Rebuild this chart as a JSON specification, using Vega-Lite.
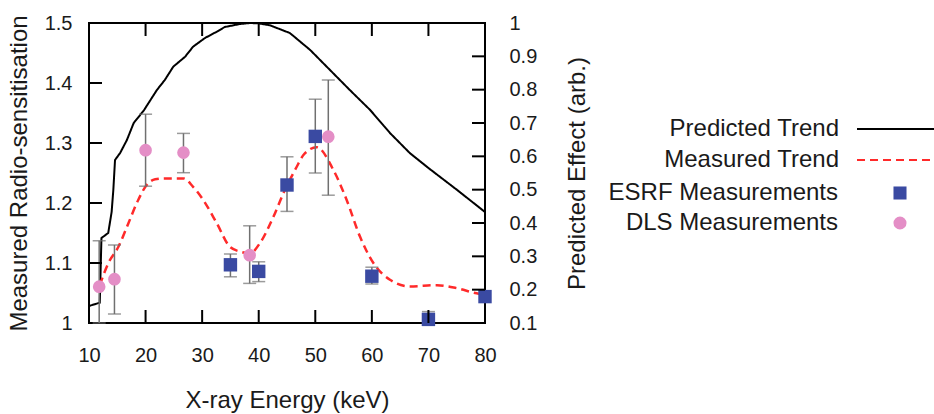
{
  "$schema": "https://vega.github.io/schema/vega-lite/v6.json",
  "width": 396,
  "height": 300,
  "autosize": {"type": "none"},
  "padding": {"left": 89, "top": 23, "right": 449, "bottom": 91},
  "config": {
    "font": "Liberation Sans",
    "view": {"stroke": "#000000", "strokeWidth": 2},
    "axis": {
      "grid": false,
      "domain": false,
      "ticks": false,
      "tickSize": 0,
      "labelFlush": false,
      "labelColor": "#1a1a1a",
      "titleColor": "#1a1a1a",
      "labelFontSize": 20,
      "titleFontSize": 24,
      "titleFontWeight": "normal",
      "labelFont": "Liberation Sans",
      "titleFont": "Liberation Sans"
    },
    "legend": {
      "labelFontSize": 24,
      "labelColor": "#1a1a1a",
      "labelFont": "Liberation Sans",
      "labelLimit": 0
    }
  },
  "datasets": {
    "predicted": [
      {"E": 10.0, "R": 0.151}, {"E": 11.9, "R": 0.161}, {"E": 12.2, "R": 0.355}, {"E": 13.4, "R": 0.37},
      {"E": 14.0, "R": 0.433}, {"E": 14.3, "R": 0.499}, {"E": 14.6, "R": 0.589}, {"E": 15.5, "R": 0.61},
      {"E": 16.7, "R": 0.649}, {"E": 17.9, "R": 0.70}, {"E": 19.7, "R": 0.738}, {"E": 22.0, "R": 0.799},
      {"E": 23.4, "R": 0.829}, {"E": 24.9, "R": 0.869}, {"E": 27.0, "R": 0.899}, {"E": 28.4, "R": 0.929},
      {"E": 30.5, "R": 0.955}, {"E": 32.6, "R": 0.974}, {"E": 34.0, "R": 0.988}, {"E": 36.7, "R": 0.997},
      {"E": 38.5, "R": 1.0}, {"E": 39.9, "R": 0.999}, {"E": 42.0, "R": 0.993}, {"E": 45.5, "R": 0.97},
      {"E": 49.1, "R": 0.919}, {"E": 52.6, "R": 0.859}, {"E": 56.1, "R": 0.799}, {"E": 59.7, "R": 0.739},
      {"E": 63.2, "R": 0.67}, {"E": 66.7, "R": 0.61}, {"E": 70.0, "R": 0.565}, {"E": 75.0, "R": 0.50},
      {"E": 80.0, "R": 0.433}
    ],
    "measured": [
      {"E": 11.9, "V": 1.063}, {"E": 13.4, "V": 1.0995}, {"E": 15.2, "V": 1.127}, {"E": 16.95, "V": 1.166},
      {"E": 18.7, "V": 1.205}, {"E": 20.2, "V": 1.23}, {"E": 21.7, "V": 1.2395}, {"E": 23.4, "V": 1.241},
      {"E": 26.7, "V": 1.241}, {"E": 28.4, "V": 1.227}, {"E": 30.2, "V": 1.205}, {"E": 32.6, "V": 1.166},
      {"E": 34.9, "V": 1.127}, {"E": 36.7, "V": 1.119}, {"E": 38.5, "V": 1.116}, {"E": 40.2, "V": 1.133},
      {"E": 42.6, "V": 1.177}, {"E": 44.35, "V": 1.216}, {"E": 46.7, "V": 1.26}, {"E": 47.9, "V": 1.28},
      {"E": 50.25, "V": 1.293}, {"E": 53.2, "V": 1.255}, {"E": 55.55, "V": 1.205}, {"E": 57.9, "V": 1.144},
      {"E": 60.3, "V": 1.0995}, {"E": 63.2, "V": 1.072}, {"E": 66.7, "V": 1.061}, {"E": 71.5, "V": 1.063},
      {"E": 75.0, "V": 1.058}, {"E": 78.5, "V": 1.0495}, {"E": 80.0, "V": 1.047}
    ],
    "esrf": [
      {"E": 35, "V": 1.097, "lo": 1.077, "hi": 1.115},
      {"E": 40, "V": 1.086, "lo": 1.069, "hi": 1.102},
      {"E": 45, "V": 1.23, "lo": 1.186, "hi": 1.277},
      {"E": 50, "V": 1.311, "lo": 1.25, "hi": 1.373},
      {"E": 60, "V": 1.078, "lo": 1.065, "hi": 1.093},
      {"E": 70, "V": 1.006, "lo": 1.0, "hi": 1.019},
      {"E": 80, "V": 1.044}
    ],
    "dls": [
      {"E": 11.8, "V": 1.0605, "lo": 1.0, "hi": 1.137},
      {"E": 14.5, "V": 1.073, "lo": 1.015, "hi": 1.13},
      {"E": 20.0, "V": 1.288, "lo": 1.228, "hi": 1.348},
      {"E": 26.7, "V": 1.284, "lo": 1.2505, "hi": 1.316},
      {"E": 38.4, "V": 1.113, "lo": 1.066, "hi": 1.162},
      {"E": 52.3, "V": 1.3105, "lo": 1.213, "hi": 1.405}
    ],
    "xticks": [{"t": 20}, {"t": 30}, {"t": 40}, {"t": 50}, {"t": 60}, {"t": 70}],
    "lticks": [{"t": 1.1}, {"t": 1.2}, {"t": 1.3}, {"t": 1.4}],
    "rticks": [{"t": 0.2}, {"t": 0.3}, {"t": 0.4}, {"t": 0.5}, {"t": 0.6}, {"t": 0.7}, {"t": 0.8}, {"t": 0.9}]
  },
  "layer": [
    {
      "data": {"name": "predicted"},
      "mark": {"type": "line", "strokeWidth": 2},
      "encoding": {
        "x": {"field": "E", "type": "quantitative", "scale": {"domain": [10, 80], "nice": false}, "axis": null},
        "y": {"field": "R", "type": "quantitative", "scale": {"domain": [0.1, 1], "nice": false, "zero": false},
              "axis": {"orient": "right", "values": [0.1, 0.2, 0.3, 0.4, 0.5, 0.6, 0.7, 0.8, 0.9, 1], "format": ".1~f",
                       "title": "Predicted Effect (arb.)", "titleAngle": 270, "titleBaseline": "top", "labelPadding": 24, "titlePadding": 29}},
        "stroke": {"datum": "Predicted Trend", "type": "nominal",
                   "scale": {"domain": ["Predicted Trend", "Measured Trend"], "range": ["#000000", "#ff2a2a"]},
                   "legend": {"title": null, "orient": "none", "legendX": 796, "legendY": 94, "symbolType": "M-4,0H4",
                              "symbolSize": 400, "symbolStrokeWidth": 2, "labelAlign": "right", "labelOffset": -70, "rowPadding": 7}},
        "strokeDash": {"datum": "Predicted Trend", "type": "nominal",
                       "scale": {"domain": ["Predicted Trend", "Measured Trend"], "range": [[1, 0], [8, 5]]},
                       "legend": {"title": null, "orient": "none", "legendX": 796, "legendY": 94, "symbolType": "M-4,0H4",
                                  "symbolSize": 400, "symbolStrokeWidth": 2, "labelAlign": "right", "labelOffset": -70, "rowPadding": 7}}
      }
    },
    {
      "layer": [
        {
          "data": {"name": "measured"},
          "mark": {"type": "line", "strokeWidth": 2.5, "interpolate": "monotone"},
          "encoding": {
            "x": {"field": "E", "type": "quantitative", "scale": {"domain": [10, 80], "nice": false}, "title": "X-ray Energy (keV)",
                  "axis": {"orient": "bottom", "values": [10, 20, 30, 40, 50, 60, 70, 80],
                           "title": "X-ray Energy (keV)", "labelPadding": 22, "titlePadding": 23}},
            "y": {"field": "V", "type": "quantitative", "scale": {"domain": [1, 1.5], "nice": false, "zero": false},
                  "title": "Measured Radio-sensitisation",
                  "axis": {"orient": "left", "values": [1, 1.1, 1.2, 1.3, 1.4, 1.5], "format": ".1~f",
                           "title": "Measured Radio-sensitisation", "labelPadding": 17, "titlePadding": 13}},
            "stroke": {"datum": "Measured Trend", "type": "nominal"},
            "strokeDash": {"datum": "Measured Trend", "type": "nominal"}
          }
        },
        {
          "data": {"name": "esrf"},
          "transform": [{"filter": "isValid(datum.lo)"}],
          "mark": {"type": "errorbar", "color": "#707070", "thickness": 1.5, "ticks": {"size": 13, "thickness": 1.5}},
          "encoding": {
            "x": {"field": "E", "type": "quantitative", "title": "X-ray Energy (keV)"},
            "y": {"field": "lo", "type": "quantitative", "title": "Measured Radio-sensitisation"},
            "y2": {"field": "hi"}
          }
        },
        {
          "data": {"name": "dls"},
          "mark": {"type": "errorbar", "color": "#707070", "thickness": 1.5, "ticks": {"size": 13, "thickness": 1.5}},
          "encoding": {
            "x": {"field": "E", "type": "quantitative", "title": "X-ray Energy (keV)"},
            "y": {"field": "lo", "type": "quantitative", "title": "Measured Radio-sensitisation"},
            "y2": {"field": "hi"}
          }
        },
        {
          "data": {"name": "esrf"},
          "mark": {"type": "point", "filled": true, "opacity": 1, "size": 180, "strokeWidth": 0},
          "encoding": {
            "x": {"field": "E", "type": "quantitative", "title": "X-ray Energy (keV)"},
            "y": {"field": "V", "type": "quantitative", "title": "Measured Radio-sensitisation"},
            "shape": {"datum": "ESRF Measurements", "type": "nominal",
                      "scale": {"domain": ["ESRF Measurements", "DLS Measurements"], "range": ["square", "circle"]},
                      "legend": {"title": null, "orient": "none", "legendX": 799, "legendY": 158, "symbolSize": 170,
                                 "labelAlign": "right", "labelOffset": -74, "rowPadding": 6}},
            "fill": {"datum": "ESRF Measurements", "type": "nominal",
                     "scale": {"domain": ["ESRF Measurements", "DLS Measurements"], "range": ["#3a4aa2", "#e48ec6"]},
                     "legend": {"title": null, "orient": "none", "legendX": 799, "legendY": 158, "symbolSize": 170,
                                "labelAlign": "right", "labelOffset": -74, "rowPadding": 6}}
          }
        },
        {
          "data": {"name": "dls"},
          "mark": {"type": "point", "filled": true, "opacity": 1, "size": 160, "strokeWidth": 0},
          "encoding": {
            "x": {"field": "E", "type": "quantitative", "title": "X-ray Energy (keV)"},
            "y": {"field": "V", "type": "quantitative", "title": "Measured Radio-sensitisation"},
            "shape": {"datum": "DLS Measurements", "type": "nominal"},
            "fill": {"datum": "DLS Measurements", "type": "nominal"}
          }
        }
      ]
    },
    {
      "layer": [
        {
          "data": {"name": "xticks"},
          "mark": {"type": "tick", "orient": "vertical", "size": 26, "thickness": 2, "color": "#000000", "opacity": 1, "clip": true},
          "encoding": {
            "x": {"field": "t", "type": "quantitative", "scale": {"domain": [10, 80], "nice": false}, "axis": null},
            "y": {"datum": 1, "type": "quantitative", "scale": {"domain": [1, 1.5], "nice": false, "zero": false}, "axis": null}
          }
        },
        {
          "data": {"name": "xticks"},
          "mark": {"type": "tick", "orient": "vertical", "size": 26, "thickness": 2, "color": "#000000", "opacity": 1, "clip": true},
          "encoding": {
            "x": {"field": "t", "type": "quantitative", "axis": null},
            "y": {"datum": 1.5, "type": "quantitative", "axis": null}
          }
        },
        {
          "data": {"name": "lticks"},
          "mark": {"type": "tick", "orient": "horizontal", "size": 26, "thickness": 2, "color": "#000000", "opacity": 1, "clip": true},
          "encoding": {
            "x": {"datum": 10, "type": "quantitative", "axis": null},
            "y": {"field": "t", "type": "quantitative", "axis": null}
          }
        }
      ]
    },
    {
      "data": {"name": "rticks"},
      "mark": {"type": "tick", "orient": "horizontal", "size": 26, "thickness": 2, "color": "#000000", "opacity": 1, "clip": true},
      "encoding": {
        "x": {"datum": 80, "type": "quantitative", "axis": null},
        "y": {"field": "t", "type": "quantitative", "scale": {"domain": [0.1, 1], "nice": false, "zero": false}, "axis": null}
      }
    }
  ],
  "resolve": {"scale": {"y": "independent"}, "axis": {"x": "independent", "y": "independent"}}
}
